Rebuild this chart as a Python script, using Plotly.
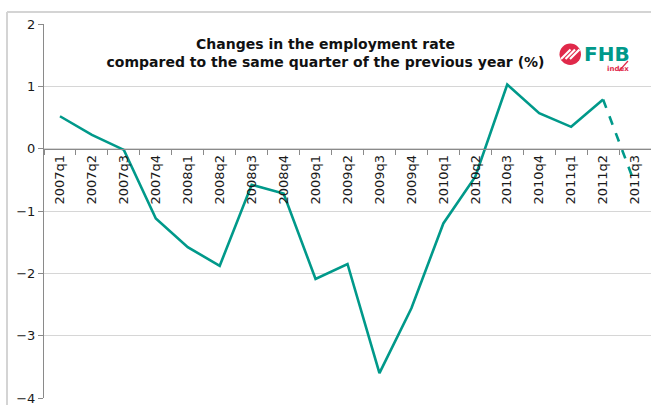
import plotly.graph_objects as go

# Quarterly change in employment rate vs. same quarter of previous year (%)
quarters = ["2007q1", "2007q2", "2007q3", "2007q4", "2008q1", "2008q2", "2008q3",
            "2008q4", "2009q1", "2009q2", "2009q3", "2009q4", "2010q1", "2010q2",
            "2010q3", "2010q4", "2011q1", "2011q2", "2011q3"]
change = [0.52, 0.22, -0.02, -1.12, -1.58, -1.88, -0.58, -0.72, -2.09, -1.85,
          -3.60, -2.56, -1.20, -0.45, 1.03, 0.57, 0.35, 0.79, -0.57]
y_ticks = [2, 1, 0, -1, -2, -3, -4]

W, H = 651, 405
L, R, T, B = 44, 0, 24, 7
PW, PH = W - L - R, H - T - B
TEAL = "#00998a"
RED = "#e0294a"


def px(x):
    return (x - L) / PW


def py(y):
    return (H - B - y) / PH


fig = go.Figure()
# solid line for final data, dashed for the preliminary last quarter
fig.add_trace(go.Scatter(x=quarters[:-1], y=change[:-1], mode="lines",
                         line=dict(color=TEAL, width=2.6), hoverinfo="x+y"))
fig.add_trace(go.Scatter(x=quarters[-2:], y=change[-2:], mode="lines",
                         line=dict(color=TEAL, width=2.6, dash="dash"), hoverinfo="x+y"))

shapes = [
    # outer frame
    dict(type="line", xref="paper", yref="paper", x0=px(7), x1=px(7), y0=py(12), y1=py(420),
         line=dict(color="#d4d4d4", width=2)),
    dict(type="line", xref="paper", yref="paper", x0=px(7), x1=px(700), y0=py(12), y1=py(12),
         line=dict(color="#d4d4d4", width=2)),
    # logo badge
    dict(type="circle", xref="paper", yref="paper", x0=px(559.5), x1=px(581), y0=py(43.5), y1=py(65),
         fillcolor=RED, line=dict(width=0)),
    # tick mark on the "index" word
    dict(type="line", xref="paper", yref="paper", x0=px(619), x1=px(628), y0=py(71), y1=py(61),
         line=dict(color=RED, width=1.2)),
]
for dx in (-4.5, 0, 4.5):
    shapes.append(dict(type="line", xref="paper", yref="paper",
                       x0=px(565.5 + dx), x1=px(575 + dx), y0=py(59), y1=py(49.5),
                       line=dict(color="white", width=2.2)))

annotations = [
    dict(text="<b>FHB</b>", xref="paper", yref="paper", x=px(582), y=py(54), xanchor="left",
         yanchor="middle", showarrow=False,
         font=dict(family="DejaVu Sans", size=20, color=TEAL)),
    dict(text="<b>index</b>", xref="paper", yref="paper", x=px(617.5), y=py(68.5), xanchor="center",
         yanchor="middle", showarrow=False,
         font=dict(family="DejaVu Sans", size=7, color=RED)),
]

fig.update_layout(
    width=W, height=H,
    margin=dict(l=L, r=R, t=T, b=B),
    paper_bgcolor="white", plot_bgcolor="white",
    showlegend=False,
    font=dict(family="DejaVu Sans", size=13, color="#1a1a1a"),
    title=dict(text="<b>Changes in the employment rate<br>compared to the same quarter of the previous year (%)</b>",
               x=0.5, xanchor="center", y=1 - 49 / H, yanchor="middle",
               font=dict(family="DejaVu Sans", size=14, color="#111111")),
    shapes=shapes,
    annotations=annotations,
    xaxis=dict(type="category", categoryorder="array", categoryarray=quarters,
               range=[-0.5, len(quarters) - 0.5],
               anchor="free", position=2 / 3,
               showgrid=False, zeroline=False,
               showline=True, linecolor="#8a8a8a", linewidth=1,
               ticks="outside", tickson="boundaries", ticklen=5, tickcolor="#8a8a8a",
               tickangle=-90, tickfont=dict(size=13)),
    yaxis=dict(range=[-4, 2], tickvals=y_ticks, showgrid=True, gridcolor="#d6d6d6",
               gridwidth=1, zeroline=False, showline=True, linecolor="#8a8a8a",
               ticks="outside", ticklen=5, tickcolor="#8a8a8a", tickfont=dict(size=13),
               ticklabeloverflow="allow"),
)

fig.write_html("out.html")
